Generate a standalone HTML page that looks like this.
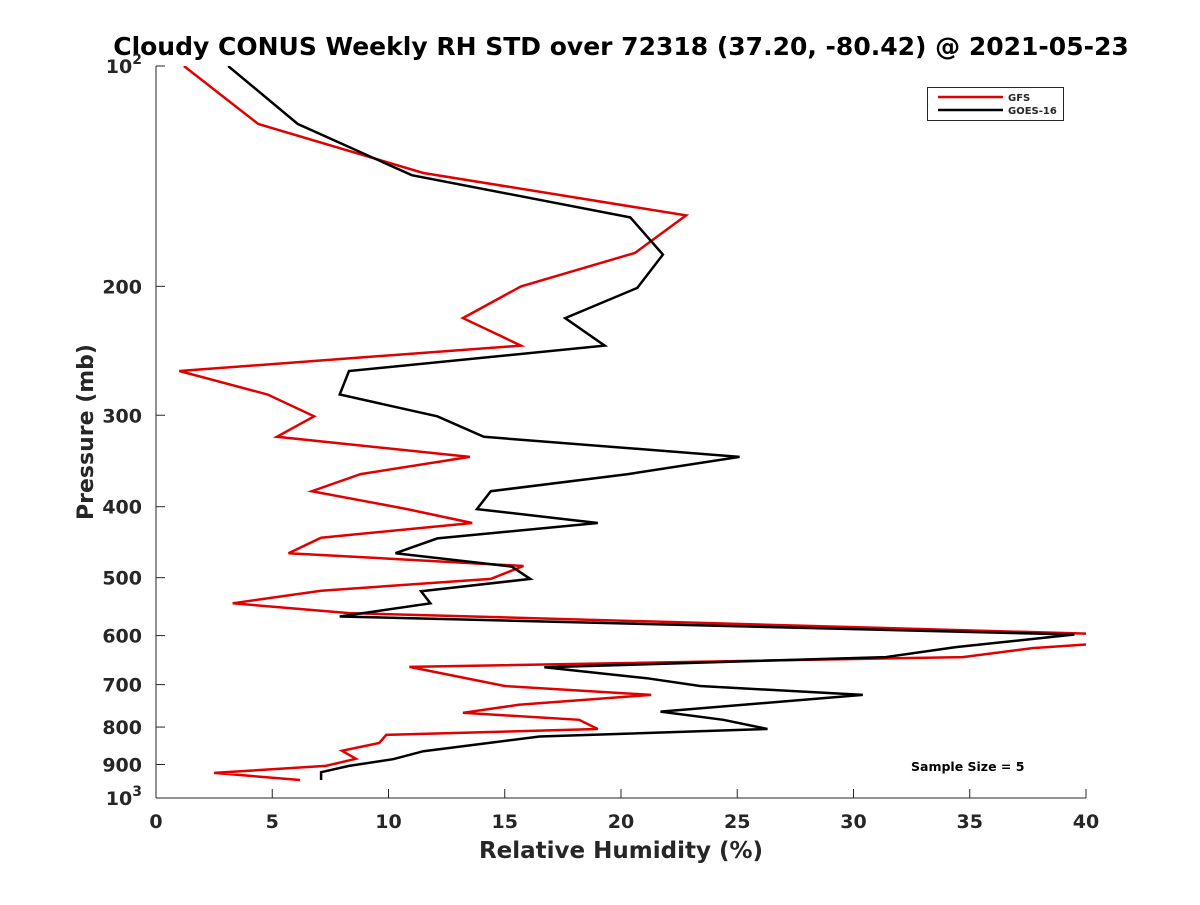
<!DOCTYPE html>
<html><head><meta charset="utf-8"><style>
body{margin:0;background:#fff}
svg text{font-family:"DejaVu Sans","Liberation Sans",sans-serif;font-weight:bold;fill:#262626}
</style></head><body>
<svg id="chart" width="1200" height="900" xmlns="http://www.w3.org/2000/svg">
<defs><clipPath id="clip"><rect x="156" y="66" width="930" height="732"/></clipPath></defs>
<text x="621" y="55" text-anchor="middle" font-size="25" style="fill:#000">Cloudy CONUS Weekly RH STD over 72318 (37.20, -80.42) @ 2021-05-23</text>
<g id="axes"></g>
<g id="series" clip-path="url(#clip)"></g>
<g>
<rect x="927.5" y="87.5" width="136" height="33" fill="#fff" stroke="#262626" stroke-width="1"/>
<line x1="938" y1="97" x2="1003" y2="97" stroke="#e00000" stroke-width="2.5"/>
<text x="1008" y="101" font-size="10">GFS</text>
<line x1="938" y1="110" x2="1003" y2="110" stroke="#000" stroke-width="2.5"/>
<text x="1008" y="114" font-size="10">GOES-16</text>
</g>
<text x="911" y="771" font-size="12.5" style="fill:#000">Sample Size = 5</text>
<text x="621" y="858" text-anchor="middle" font-size="23">Relative Humidity (%)</text>
<text transform="translate(93,432) rotate(-90)" text-anchor="middle" font-size="22">Pressure (mb)</text>
</svg>
<script>
const xTicks=[0,5,10,15,20,25,30,35,40];
const yTicks=[200,300,400,500,600,700,800,900];
const gfsRH=[1.2,4.4,11.5,22.8,20.6,15.7,13.2,15.7,1.0,4.8,6.8,5.2,13.5,8.8,6.7,10.8,13.6,7.1,5.7,15.8,14.4,7.1,3.3,8.3,40.6,40.6,37.7,34.7,10.9,15.0,21.3,15.6,13.2,18.2,19.0,9.9,9.6,8.0,8.6,7.3,2.5,6.2];
const gfsP=[100,120,140,160,180,200,221,241,261,281,301,321,342,361,381,403,421,441,463,482,502,521,542,559,597,615,624,642,662,703,723,746,765,782,805,820,841,862,884,904,924,945];
const goesRH=[3.1,6.1,11.0,20.4,21.8,20.7,17.6,19.3,8.3,7.9,12.1,14.1,25.1,20.3,14.4,13.8,19.0,12.1,10.3,15.3,16.1,11.4,11.8,7.9,39.5,34.4,31.4,16.7,21.1,23.4,30.4,21.7,24.4,26.3,16.5,11.5,10.2,8.3,7.1,7.1];
const goesP=[100,120,141,161,181,201,221,241,261,281,301,321,342,361,381,403,421,442,463,483,502,522,542,565,598,622,642,663,686,703,723,762,782,805,824,863,885,904,922,945];
const X0=156,X1=1086,Y0=66,Y1=798;
const xs=v=>X0+(v/40)*(X1-X0);
const ys=p=>Y0+(Math.log10(p)-2)*(Y1-Y0);
const NS="http://www.w3.org/2000/svg";
const ax=document.getElementById('axes');
function mk(t,a,parent){const e=document.createElementNS(NS,t);for(const k in a)e.setAttribute(k,a[k]);parent.appendChild(e);return e;}
const xl=mk('line',{x1:X0,y1:Y1,x2:X1,y2:Y1,stroke:'#262626','stroke-width':1},ax);


const yl=mk('line',{x1:X0,y1:Y0,x2:X0,y2:Y1,stroke:'#262626','stroke-width':1},ax);


xTicks.forEach(v=>{const x=xs(v);
mk('line',{x1:x,y1:Y1,x2:x,y2:Y1-9,stroke:'#262626'},ax);
const t=mk('text',{x:x,y:Y1+30,'text-anchor':'middle','font-size':19},ax);t.textContent=v;

});
yTicks.forEach(p=>{const y=ys(p);
mk('line',{x1:X0,y1:y,x2:X0+9,y2:y,stroke:'#262626'},ax);
const t=mk('text',{x:X0-14,y:y+7,'text-anchor':'end','font-size':19},ax);t.textContent=p;

});
[[100,Y0],[1000,Y1]].forEach(([p,y])=>{mk('line',{x1:X0,y1:y,x2:X0+9,y2:y,stroke:'#262626'},ax);
const t=mk('text',{x:X0-14,y:y+7,'text-anchor':'end','font-size':19},ax);
t.innerHTML='10<tspan dy="-9" font-size="14">'+(p===100?2:3)+'</tspan>';

});
const sg=document.getElementById('series');
function line(rh,p,color,name){const pts=rh.map((v,i)=>xs(v).toFixed(1)+','+ys(p[i]).toFixed(1)).join(' ');
const e=mk('polyline',{points:pts,fill:'none',stroke:color,'stroke-width':2.5,'stroke-linejoin':'miter'},sg);

}
line(gfsRH,gfsP,'#e00000','gfs-line');
line(goesRH,goesP,'#000000','goes16-line');
</script>
</body></html>
